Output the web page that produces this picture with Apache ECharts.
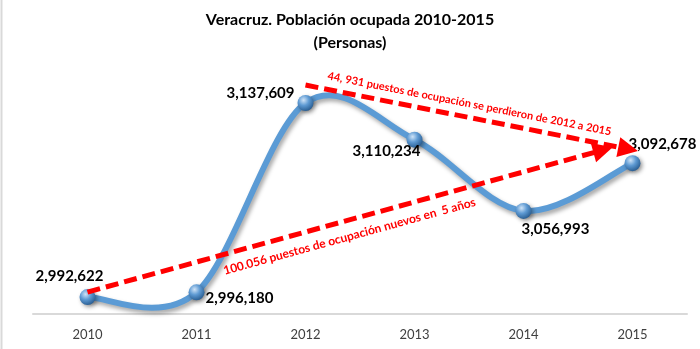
<!DOCTYPE html>
<html>
<head>
<meta charset="utf-8">
<script src="https://cdn.jsdelivr.net/npm/echarts@6/dist/echarts.min.js"></script>
<style>
  html, body { margin: 0; padding: 0; background: #fff; }
  #chart { width: 700px; height: 349px; }
</style>
</head>
<body>
<div id="chart"></div>
<script>
// Employed population of Veracruz, 2010-2015
const years = ['2010', '2011', '2012', '2013', '2014', '2015'];
const ocupada = [2992622, 2996180, 3137609, 3110234, 3056993, 3092678];

// Annotation arrows: [year index, persons] start and end points
const gainFrom = [0, 2996400];
const gainTo = [4.73, 3102500];
const gainText = '100.056 puestos de ocupación nuevos en  5 años';
const lossFrom = [2, 3151000];
const lossTo = [4.96, 3103200];
const lossText = '44, 931 puestos de ocupación se perdieron de 2012 a 2015';

// Where each value label sits relative to its point
const labelPlacement = [
  { position: 'top', offset: [-18, 0] },
  { position: 'right', offset: [-4, 6] },
  { position: 'left', offset: [2, -10] },
  { position: 'bottom', offset: [-28, -9] },
  { position: 'bottom', offset: [32, -2] },
  { position: 'top', offset: [30, 2] }
];

const fmt = v => v.toLocaleString('en-US');

const chart = echarts.init(document.getElementById('chart'), null, { renderer: 'canvas' });

const sphere = new echarts.graphic.RadialGradient(0.38, 0.32, 0.75, [
  { offset: 0, color: '#cfe3f7' },
  { offset: 0.45, color: '#5e9ad3' },
  { offset: 1, color: '#23568a' }
]);

const redLine = {
  color: '#ff0000',
  width: 5,
  type: [13, 6]
};

const arrowLabel = (text, position, size, distance) => ({
  show: true,
  formatter: text,
  position: position,
  distance: distance,
  color: '#ff0000',
  fontWeight: 'bold',
  fontSize: size
});

// Smoothed curve through the points (Catmull-Rom style cubic segments)
function renderCurve(params, api) {
  if (params.dataIndex !== 0) return null;
  const pts = ocupada.map((v, i) => api.coord([i, v]));
  const n = pts.length;
  let d = 'M' + pts[0][0] + ' ' + pts[0][1];
  for (let i = 0; i < n - 1; i++) {
    const p0 = pts[Math.max(i - 1, 0)];
    const p1 = pts[i];
    const p2 = pts[i + 1];
    const p3 = pts[Math.min(i + 2, n - 1)];
    const c1 = [p1[0] + (p2[0] - p0[0]) / 6, p1[1] + (p2[1] - p0[1]) / 6];
    const c2 = [p2[0] - (p3[0] - p1[0]) / 6, p2[1] - (p3[1] - p1[1]) / 6];
    d += ' C' + c1[0] + ' ' + c1[1] + ' ' + c2[0] + ' ' + c2[1] + ' ' + p2[0] + ' ' + p2[1];
  }
  return {
    type: 'path',
    shape: { pathData: d },
    style: {
      fill: 'none',
      stroke: '#5b9bd5',
      lineWidth: 6,
      lineCap: 'round',
      lineJoin: 'round',
      shadowColor: 'rgba(0,0,0,0.35)',
      shadowBlur: 4,
      shadowOffsetX: 2,
      shadowOffsetY: 3
    }
  };
}

chart.setOption({
  animation: false,
  backgroundColor: '#ffffff',
  textStyle: { fontFamily: 'Lato, "Liberation Sans", sans-serif' },
  graphic: [
    {
      type: 'rect',
      shape: { x: 1.5, y: -2, width: 720, height: 360 },
      style: { fill: 'none', stroke: '#d9d9d9', lineWidth: 2 },
      silent: true
    },
    {
      type: 'text',
      style: {
        x: 350, y: 20,
        text: 'Veracruz. Población ocupada 2010-2015',
        textAlign: 'center', textVerticalAlign: 'middle',
        font: 'bold 16px Lato, sans-serif', fill: '#000'
      }
    },
    {
      type: 'text',
      style: {
        x: 350, y: 43,
        text: '(Personas)',
        textAlign: 'center', textVerticalAlign: 'middle',
        font: 'bold 16px Lato, sans-serif', fill: '#000'
      }
    }
  ],
  grid: { left: 33, right: 13, top: 73, bottom: 35 },
  xAxis: [
    {
      type: 'category',
      data: years,
      boundaryGap: true,
      axisLine: { lineStyle: { color: '#d9d9d9', width: 2 } },
      axisTick: { show: false },
      axisLabel: { color: '#404040', fontSize: 13, margin: 14 }
    },
    {
      type: 'value',
      min: -0.5,
      max: 5.5,
      show: false
    }
  ],
  yAxis: {
    type: 'value',
    min: 2980000,
    max: 3160000,
    show: false,
    splitLine: { show: false }
  },
  series: [
    {
      type: 'line',
      xAxisIndex: 1,
      data: [],
      silent: true,
      markLine: {
        silent: true,
        animation: false,
        symbol: ['none', 'triangle'],
        symbolSize: [20, 20],
        lineStyle: redLine,
        itemStyle: { color: '#ff0000' },
        emphasis: { disabled: true },
        data: [
          [
            { coord: gainFrom, label: arrowLabel(gainText, 'insideMiddleBottom', 12, 10) },
            { coord: gainTo }
          ],
          [
            { coord: lossFrom, label: arrowLabel(lossText, 'insideMiddleTop', 11, 8) },
            { coord: lossTo }
          ]
        ]
      }
    },
    {
      type: 'custom',
      z: 2,
      silent: true,
      data: [[0, ocupada[0]]],
      renderItem: renderCurve
    },
    {
      type: 'line',
      data: ocupada.map((v, i) => ({ value: v, label: labelPlacement[i] })),
      z: 3,
      symbol: 'circle',
      symbolSize: 16,
      lineStyle: { width: 0, opacity: 0 },
      itemStyle: {
        color: sphere,
        shadowColor: 'rgba(0,0,0,0.4)',
        shadowBlur: 4,
        shadowOffsetX: 2,
        shadowOffsetY: 2
      },
      label: {
        show: true,
        formatter: p => fmt(p.value),
        color: '#000',
        fontWeight: 'bold',
        fontSize: 15
      },
      emphasis: { disabled: true }
    }
  ]
});
</script>
</body>
</html>
